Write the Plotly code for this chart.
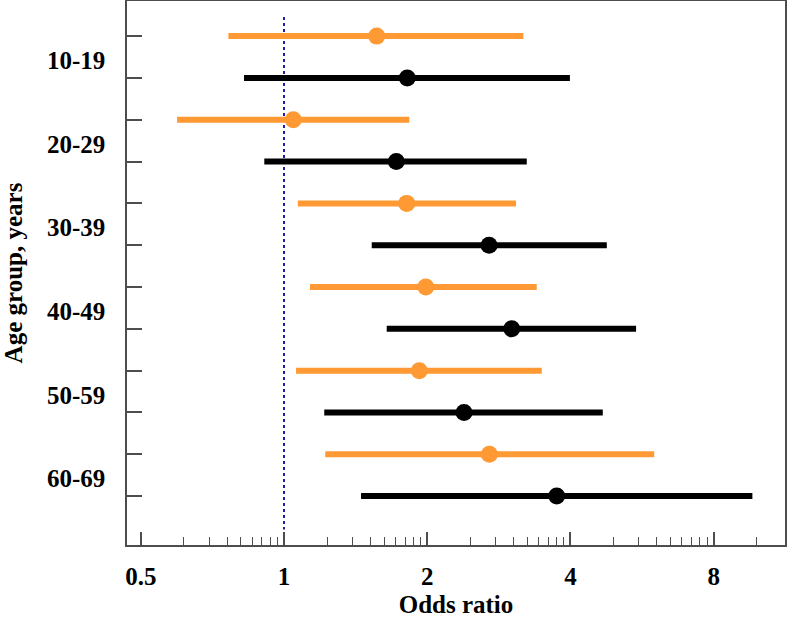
import math
import plotly.graph_objects as go

# ---- data ----
age_groups = ["10-19", "20-29", "30-39", "40-49", "50-59", "60-69"]
orange_or = [1.566, 1.046, 1.811, 1.986, 1.925, 2.702]
orange_lo = [0.764, 0.596, 1.069, 1.134, 1.060, 1.221]
orange_hi = [3.185, 1.834, 3.074, 3.398, 3.482, 6.000]
black_or = [1.816, 1.722, 2.698, 3.011, 2.390, 3.743]
black_lo = [0.824, 0.909, 1.529, 1.644, 1.215, 1.452]
black_hi = [3.990, 3.238, 4.770, 5.496, 4.678, 9.650]
x_ticks = [0.5, 1, 2, 4, 8]
x_tick_labels = ["0.5", "1", "2", "4", "8"]
ref_value = 1

# ---- layout helpers ----
n = len(age_groups)
orange_rows = [2 * i for i in range(n)]
black_rows = [2 * i + 1 for i in range(n)]
label_pos = [2 * i + 0.58 for i in range(n)]
all_rows = list(range(2 * n))

x_min, x_max = 0.4677, 11.3
minor_vals = []
for p in range(-1, 4):
    for k in range(2, 10):
        v = 2 ** (p + math.log10(k))
        if x_min < v < 10.5:
            minor_vals.append(v)

ORANGE = "#FF9933"
FONT = "Liberation Serif"
FS = 25
AXC = "#4d4d4d"

fig = go.Figure()
fig.add_trace(go.Scatter(
    x=[ref_value, ref_value], y=[-0.46, 11.8], mode="lines",
    line=dict(color="#1f1fa8", width=2, dash="dot"), showlegend=False, hoverinfo="skip"))


def add_series(rows, est, lo, hi, color):
    fig.add_trace(go.Scatter(
        x=est, y=rows, mode="markers",
        marker=dict(color=color, size=17, symbol="circle"),
        error_x=dict(type="data", symmetric=False,
                     array=[h - e for h, e in zip(hi, est)],
                     arrayminus=[e - l for e, l in zip(est, lo)],
                     color=color, thickness=6, width=0),
        showlegend=False))


add_series(orange_rows, orange_or, orange_lo, orange_hi, ORANGE)
add_series(black_rows, black_or, black_lo, black_hi, "#000000")

fig.update_layout(
    width=787, height=618,
    margin=dict(l=127, r=2, t=1, b=73),
    paper_bgcolor="white", plot_bgcolor="white",
    font=dict(family=FONT, size=FS, color="black", weight="bold"),
    xaxis=dict(
        type="log", range=[math.log10(x_min), math.log10(x_max)],
        automargin=False,
        tickvals=x_ticks, ticktext=x_tick_labels,
        ticks="inside", ticklen=13, tickwidth=1.5, tickcolor=AXC,
        minor=dict(tickvals=minor_vals, ticks="inside", ticklen=8, tickwidth=1, tickcolor=AXC),
        showgrid=False, zeroline=False,
        showline=True, linecolor=AXC, linewidth=1.5, mirror=True,
        ticklabelstandoff=8,
        tickfont=dict(family=FONT, size=FS, weight="bold"),
        title=dict(text="Odds ratio", font=dict(family=FONT, size=FS, weight="bold"), standoff=14),
    ),
    yaxis=dict(
        range=[12.17, -0.84],
        automargin=False,
        tickvals=label_pos, ticktext=age_groups,
        ticks="", ticklabelstandoff=15,
        minor=dict(tickvals=all_rows, ticks="inside", ticklen=15, tickwidth=1.5, tickcolor=AXC),
        showgrid=False, zeroline=False,
        showline=True, linecolor=AXC, linewidth=1.5, mirror=True,
        tickfont=dict(family=FONT, size=FS, weight="bold"),
        title=dict(text="Age group, years", font=dict(family=FONT, size=FS, weight="bold"), standoff=20),
    ),
)

fig.write_html(
    "out.html",
    config={"displayModeBar": False},
    post_script="document.body.style.margin='0';document.body.style.padding='0';",
)
